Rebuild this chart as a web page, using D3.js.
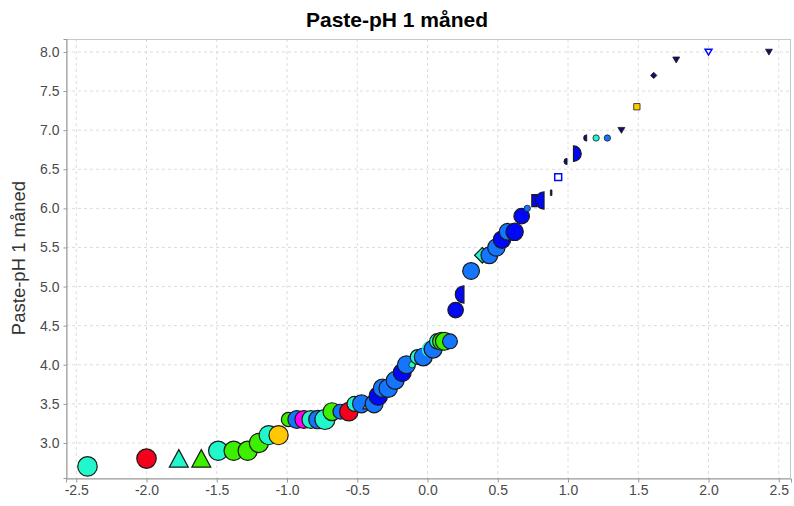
<!DOCTYPE html>
<html><head><meta charset="utf-8">
<script src="https://cdn.jsdelivr.net/npm/d3@7"></script>
<style>body{margin:0;background:#fff;} svg{display:block;}</style>
</head><body>
<script>
// Normal scores (x), measured Paste-pH (y), group (colour), marker type, weight (size)
const normalScore = [-2.42,-2.00,-1.77,-1.61,-1.49,-1.38,-1.28,-1.20,-1.13,-1.06,
  -0.99,-0.93,-0.88,-0.83,-0.78,-0.73,-0.68,-0.62,-0.56,-0.52,
  -0.47,-0.42,-0.38,-0.35,-0.32,-0.28,-0.23,-0.18,-0.15,-0.11,
  -0.07,-0.03,0.02,0.04,0.07,0.10,0.12,0.16,0.20,0.25,
  0.31,0.39,0.44,0.49,0.53,0.57,0.62,0.67,0.71,0.76,
  0.82,0.88,0.93,0.99,1.05,1.13,1.20,1.28,1.38,1.49,
  1.61,1.77,2.00,2.43];
const pastePH = [2.70,2.80,2.80,2.80,2.90,2.90,2.90,3.00,3.10,3.10,
  3.30,3.30,3.30,3.30,3.30,3.30,3.40,3.40,3.40,3.50,
  3.50,3.50,3.50,3.60,3.70,3.70,3.80,3.90,4.00,4.00,
  4.10,4.10,4.20,4.20,4.30,4.30,4.30,4.30,4.70,4.90,
  5.20,5.40,5.40,5.50,5.60,5.70,5.70,5.90,6.00,6.10,
  6.10,6.20,6.40,6.60,6.70,6.90,6.90,6.90,7.00,7.30,
  7.70,7.90,8.00,8.00];
const group = ["A","B","A","C","A","C","C","C","A","D",
  "C","E","F","A","E","A","C","E","B","A",
  "E","D","E","G","E","E","E","G","E","A",
  "A","E","A","E","A","C","C","E","G","G",
  "E","A","E","E","G","E","G","G","E","G",
  "G","H","G","H","G","H","A","E","H","D",
  "H","H","G","H"];
const marker = ["circle","circle","triangle","triangle","circle","circle","circle","circle","circle","circle",
  "circle","circle","circle","circle","circle","circle","circle","circle","circle","circle",
  "circle","triangle","circle","circle","circle","circle","circle","circle","circle","circle",
  "circle","circle","ring","circle","circle","circle","circle","circle","circle","halfL",
  "circle","diamond","circle","circle","circle","circle","circle","circle","circle","bar",
  "halfL","tick","openSquare","halfL","halfR","halfL","circle","circle","triangleDown","square",
  "diamond","triangleDown","openTriDown","triangleDown"];
const weight = [95,95,90,90,92,92,92,92,92,92,
  50,80,80,80,85,100,80,55,85,55,
  80,30,80,85,85,85,80,80,80,10,
  55,80,60,80,60,80,80,55,60,75,
  70,60,70,75,75,70,75,60,10,50,
  75,8,12,10,60,10,10,10,12,10,
  10,12,12,12];
const xTicks = [-2.5,-2.0,-1.5,-1.0,-0.5,0.0,0.5,1.0,1.5,2.0,2.5];
const yTicks = [3.0,3.5,4.0,4.5,5.0,5.5,6.0,6.5,7.0,7.5,8.0];
const groups = ["A","B","C","D","E","F","G","H"];
const palette = ["#22f7cc","#f5001c","#3cf000","#ffc800","#1476ff","#ff00f0","#0008f5","#10106a"];

const W = 794, H = 506;
const m = {left:66, right:3, top:39, bottom:28};
const svg = d3.select("body").append("svg").attr("width",W).attr("height",H)
  .style("font-family","'Liberation Sans', Arial, sans-serif");

const x = d3.scaleLinear().domain([-2.573,2.587]).range([m.left, W-m.right]);
const y = d3.scaleLinear().domain([2.552,8.166]).range([H-m.bottom, m.top]);
const color = d3.scaleOrdinal().domain(groups).range(palette);
const rad = d3.scaleSqrt().domain([0,100]).range([0,10]);

// grid
const g = svg.append("g");
g.selectAll("line.gx").data(xTicks).join("line")
  .attr("x1",d=>x(d)).attr("x2",d=>x(d)).attr("y1",m.top).attr("y2",H-m.bottom)
  .attr("stroke","#dcdcdc").attr("stroke-dasharray","3,3");
g.selectAll("line.gy").data(yTicks).join("line")
  .attr("y1",d=>y(d)).attr("y2",d=>y(d)).attr("x1",m.left).attr("x2",W-m.right)
  .attr("stroke","#dcdcdc").attr("stroke-dasharray","3,3");

// frame
svg.append("rect").attr("x",m.left+0.5).attr("y",m.top+0.5)
  .attr("width",W-m.right-m.left-1).attr("height",H-m.bottom-m.top)
  .attr("fill","none").attr("stroke","#c8c8c8");

// axes
const xAxis = svg.append("g").attr("transform",`translate(0,${H-m.bottom+0.5})`)
  .call(d3.axisBottom(x).tickValues(xTicks).tickFormat(d3.format(".1f")).tickSize(4).tickPadding(3));
const yAxis = svg.append("g").attr("transform",`translate(${m.left+0.5},0)`)
  .call(d3.axisLeft(y).tickValues(yTicks).tickFormat(d3.format(".1f")).tickSize(3).tickPadding(4));
[xAxis,yAxis].forEach(a=>{
  a.select(".domain").attr("stroke","#999");
  a.selectAll(".tick line").attr("stroke","#999");
  a.selectAll("text").attr("fill","#4a4a4a").style("font-size","14px")
   .style("font-family","'Liberation Sans', Arial, sans-serif");
});
xAxis.selectAll("text").text(d=>d3.format(".1f")(d).replace("−","-"));

// marker paths
function shapePath(t, r){
  switch(t){
    case "triangle": return `M0,${-0.95*r}L${r},${0.9*r}L${-r},${0.9*r}Z`;
    case "triangleDown": case "openTriDown":
      return `M${-r},${-0.8*r}L${r},${-0.8*r}L0,${0.9*r}Z`;
    case "square": case "openSquare":
      return `M${-r},${-r}H${r}V${r}H${-r}Z`;
    case "diamond": return `M0,${-r}L${r},0L0,${r}L${-r},0Z`;
    case "bar": return `M${-0.35*r},${-0.85*r}H${0.35*r}V${0.85*r}H${-0.35*r}Z`;
    case "halfL": return `M${0.15*r},${-r}A${r},${r} 0 0 0 ${0.15*r},${r}Z`;
    case "halfR": return `M${-0.2*r},${-r}A${r},${r} 0 0 1 ${-0.2*r},${r}Z`;
    case "tick": return `M-0.8,${-r}H0.8V${r}H-0.8Z`;
    default: return `M${r},0A${r},${r} 0 1 1 ${-r},0A${r},${r} 0 1 1 ${r},0Z`;
  }
}
const idx = d3.range(normalScore.length);
svg.append("g").selectAll("path").data(idx).join("path")
  .attr("transform",i=>`translate(${x(normalScore[i])},${y(pastePH[i])})`)
  .attr("d",i=>shapePath(marker[i], rad(weight[i])))
  .attr("fill",i=>{
    const t = marker[i];
    if (t==="ring"||t==="openSquare"||t==="openTriDown") return t==="ring"?"none":"#fff";
    if (t==="tick") return "#111";
    return color(group[i]);
  })
  .attr("stroke",i=>{
    const t = marker[i];
    if (t==="ring"||t==="openSquare"||t==="openTriDown") return color(group[i]);
    return "#1a1a1a";
  })
  .attr("stroke-width",i=>{
    const t = marker[i];
    if (t==="ring"||t==="openSquare"||t==="openTriDown") return 1.5;
    return weight[i] < 20 ? 0.8 : 1.2;
  });

// title
svg.append("text").attr("x",397).attr("y",27).attr("text-anchor","middle")
  .style("font-size","21px").style("font-weight","bold").attr("fill","#000")
  .text("Paste-pH 1 måned");
// y label
svg.append("text").attr("transform","translate(25,258) rotate(-90)")
  .attr("text-anchor","middle").style("font-size","18.5px").attr("fill","#333")
  .text("Paste-pH 1 måned");
</script>
</body></html>
